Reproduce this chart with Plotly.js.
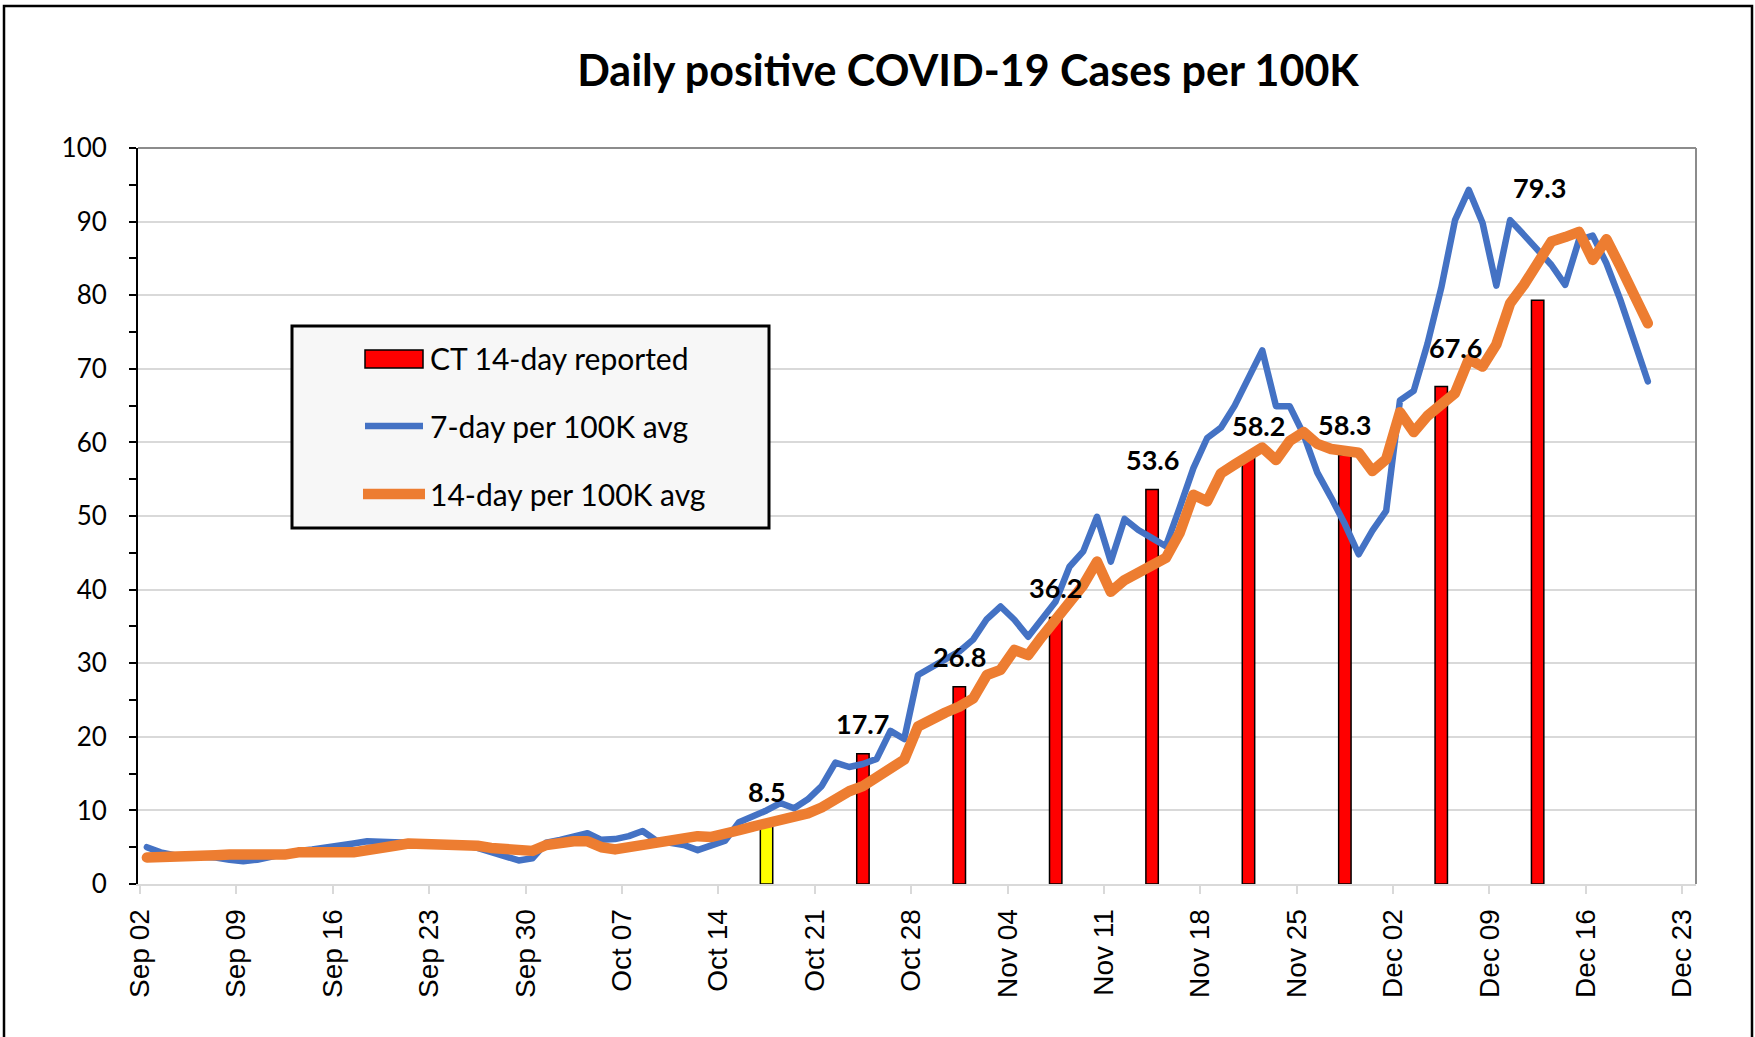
<!DOCTYPE html>
<html>
<head>
<meta charset="utf-8">
<script src="https://cdn.plot.ly/plotly-3.0.1.min.js"></script>
<style>
  html, body { margin: 0; padding: 0; background: #fff; }
  .scatterlayer .js-line { stroke-linejoin: round; stroke-linecap: round; }
</style>
</head>
<body>
<div id="grafico" style="width:1755px;height:1037px;"></div>
<script>
  // daily series start on Sep 02, one value per day
  let startDate = '2020-09-02';

  let avg7 = [
    5.0, 4.3, 3.9, 3.8, 3.8, 3.6, 3.3, 3.1, 3.3, 3.7,
    4.2, 4.5, 4.7, 4.9, 5.2, 5.5, 5.8, 5.8, 5.7, 5.6,
    5.5, 5.5, 5.5, 5.3, 4.9, 4.3, 3.6, 3.2, 3.5, 5.6,
    6.0, 6.4, 6.9, 6.0, 6.1, 6.5, 7.2, 5.9, 5.7, 5.3,
    4.6, 5.3, 5.9, 8.4, 9.1, 10.0, 11.0, 10.3, 11.5, 13.3,
    16.5, 15.9, 16.3, 17.0, 20.8, 19.7, 28.4, 29.5, 30.7, 31.6,
    33.2, 36.0, 37.7, 35.9, 33.6, 35.9, 38.4, 43.1, 45.2, 49.9,
    43.8, 49.6, 48.1, 47.0, 45.9, 51.1, 56.5, 60.6, 62.0, 65.0,
    68.9, 72.5, 64.9, 64.9, 61.1, 55.9, 52.5, 48.9, 44.8, 48.0,
    50.7, 65.7, 67.0, 73.4, 81.0, 90.2, 94.3, 89.8, 81.3, 90.2,
    88.2, 86.2, 84.1, 81.4, 87.5, 88.1, 84.3, 79.4, 73.9, 68.3
  ];

  let avg14 = [
    3.6, 3.6, 3.7, 3.8, 3.8, 3.9, 4.0, 4.0, 3.9, 3.8,
    4.0, 4.3, 4.4, 4.3, 4.3, 4.3, 4.5, 4.9, 5.2, 5.5,
    5.5, 5.5, 5.5, 5.4, 5.2, 4.9, 4.7, 4.6, 4.5, 5.3,
    5.7, 5.8, 5.8, 5.0, 4.7, 5.0, 5.4, 5.8, 6.1, 6.5,
    6.5, 6.4, 6.7, 7.3, 7.8, 8.2, 8.6, 9.0, 9.6, 10.4,
    11.6, 12.6, 13.3, 14.4, 15.8, 16.9, 21.4, 22.5, 23.3, 24.1,
    25.2, 28.4, 29.1, 31.8, 31.1, 33.6, 35.9, 38.1, 40.6, 43.8,
    39.7, 41.3, 42.2, 43.1, 44.3, 47.7, 52.9, 52.0, 55.8, 57.0,
    58.0, 59.3, 57.6, 60.2, 61.4, 59.8, 59.1, 58.9, 58.6, 56.1,
    57.7, 64.1, 61.4, 63.6, 65.3, 66.7, 71.3, 70.3, 73.3, 78.9,
    81.4, 84.6, 87.3, 87.9, 88.6, 84.8, 87.6, 83.9, 80.0, 76.2
  ];

  let fechasCT = [
    '2020-10-17', '2020-10-24', '2020-10-31', '2020-11-07', '2020-11-14',
    '2020-11-21', '2020-11-28', '2020-12-05', '2020-12-12'
  ];
  let valoresCT = [8.5, 17.7, 26.8, 36.2, 53.6, 58.2, 58.3, 67.6, 79.3];

  let nombres = ['CT 14-day reported', '7-day per 100K avg', '14-day per 100K avg'];
  let titulo = 'Daily positive COVID-19 Cases per 100K';

  const DIA = 86400000;

  // Excel puts each day in the middle of its slot
  function fechaDia(i) {
    const d = new Date(startDate + 'T12:00:00Z');
    d.setUTCDate(d.getUTCDate() + i);
    return d.toISOString().slice(0, 10) + ' 12:00';
  }
  const fechas = avg7.map((v, i) => fechaDia(i));

  const W = 1755, H = 1037;
  const m = { l: 138, r: 59, t: 148, b: 153 };
  const pw = W - m.l - m.r, ph = H - m.t - m.b;
  const px = x => (x - m.l) / pw;
  const py = y => (H - m.b - y) / ph;

  const trazas = [
    {
      type: 'bar',
      x: fechasCT.map(f => f + ' 12:00'),
      y: valoresCT,
      width: 0.9 * DIA,
      marker: {
        color: valoresCT.map((v, i) => i === 0 ? '#ffff00' : '#ff0000'),
        line: { color: '#000000', width: 1.5 }
      },
      name: nombres[0],
      showlegend: false
    },
    {
      type: 'scatter',
      mode: 'lines',
      x: fechas,
      y: avg7,
      line: { color: '#4472c4', width: 6.5 },
      name: nombres[1],
      showlegend: false
    },
    {
      type: 'scatter',
      mode: 'lines',
      x: fechas,
      y: avg14,
      line: { color: '#ed7d31', width: 10.5 },
      name: nombres[2],
      showlegend: false
    }
  ];

  // data labels over the bars, a few were dragged by hand in the original
  const ajustes = { 5: [10, 0], 7: [14, 9], 8: [2, 83] };
  const etiquetas = valoresCT.map((v, i) => {
    const a = ajustes[i] || [0, 0];
    return {
      x: fechasCT[i] + ' 12:00', y: v, xref: 'x', yref: 'y',
      text: v.toFixed(1), showarrow: false,
      xanchor: 'center', yanchor: 'middle',
      xshift: a[0], yshift: 30 + a[1],
      font: { family: 'Lato', size: 27, weight: 'bold', color: '#000' }
    };
  });

  // legend drawn by hand so the box matches the original
  const filas = [358, 426, 494];
  const textosLeyenda = nombres.map((n, i) => ({
    x: px(428), y: py(filas[i]), xref: 'paper', yref: 'paper',
    text: n, showarrow: false, xanchor: 'left', yanchor: 'middle',
    font: { family: 'Lato', size: 30, color: '#000' }
  }));

  const formas = [
    { type: 'rect', xref: 'paper', yref: 'paper', x0: px(4), x1: px(1752), y0: py(1050), y1: py(6),
      line: { color: '#000', width: 2.5 }, layer: 'above' },
    { type: 'line', xref: 'paper', yref: 'paper', x0: 0, x1: 1, y0: 1, y1: 1,
      line: { color: '#8c8c8c', width: 2 }, layer: 'above' },
    { type: 'line', xref: 'paper', yref: 'paper', x0: 1, x1: 1, y0: 0, y1: 1,
      line: { color: '#8c8c8c', width: 2 }, layer: 'above' },
    { type: 'rect', xref: 'paper', yref: 'paper', x0: px(292), x1: px(769), y0: py(528), y1: py(326),
      fillcolor: '#f7f7f7', line: { color: '#000', width: 3 }, layer: 'above' },
    { type: 'rect', xref: 'paper', yref: 'paper', x0: px(365), x1: px(423), y0: py(368), y1: py(350),
      fillcolor: '#ff0000', line: { color: '#000', width: 1.5 }, layer: 'above' },
    { type: 'line', xref: 'paper', yref: 'paper', x0: px(365), x1: px(423), y0: py(filas[1]), y1: py(filas[1]),
      line: { color: '#4472c4', width: 6.5 }, layer: 'above' },
    { type: 'line', xref: 'paper', yref: 'paper', x0: px(363), x1: px(425), y0: py(filas[2]), y1: py(filas[2]),
      line: { color: '#ed7d31', width: 10.5 }, layer: 'above' }
  ];

  const layout = {
    width: W,
    height: H,
    margin: m,
    paper_bgcolor: '#ffffff',
    plot_bgcolor: '#ffffff',
    font: { family: 'Lato', color: '#000' },
    title: {
      text: titulo,
      font: { family: 'Lato', size: 43, weight: 'bold', color: '#000' },
      xref: 'paper', x: px(968), xanchor: 'center',
      yref: 'container', y: 1 - 71 / H, yanchor: 'middle'
    },
    xaxis: {
      type: 'date',
      range: ['2020-09-01 20:30', '2020-12-24 00:00'],
      tick0: startDate,
      dtick: 7 * DIA,
      tickformat: '%b %d',
      tickangle: -90,
      tickfont: { family: 'Liberation Sans', size: 28, color: '#000' },
      ticks: 'outside', ticklen: 8, tickwidth: 2, tickcolor: '#d9d9d9',
      ticklabelstandoff: 4,
      showline: true, linecolor: '#d9d9d9', linewidth: 2,
      showgrid: false, zeroline: false, fixedrange: true
    },
    yaxis: {
      range: [0, 100],
      dtick: 10,
      tickfont: { family: 'Lato', size: 26, color: '#000' },
      ticks: 'outside', ticklen: 7, tickwidth: 2, tickcolor: '#000',
      ticklabelstandoff: 17,
      minor: { dtick: 5, ticks: 'outside', ticklen: 7, tickwidth: 2, tickcolor: '#000', showgrid: false },
      showline: true, linecolor: '#000', linewidth: 2,
      gridcolor: '#d9d9d9', gridwidth: 2,
      zeroline: false, fixedrange: true
    },
    bargap: 0,
    showlegend: false,
    hovermode: false,
    shapes: formas,
    annotations: etiquetas.concat(textosLeyenda)
  };

  Plotly.newPlot('grafico', trazas, layout, { displayModeBar: false, staticPlot: true });
</script>
</body>
</html>
